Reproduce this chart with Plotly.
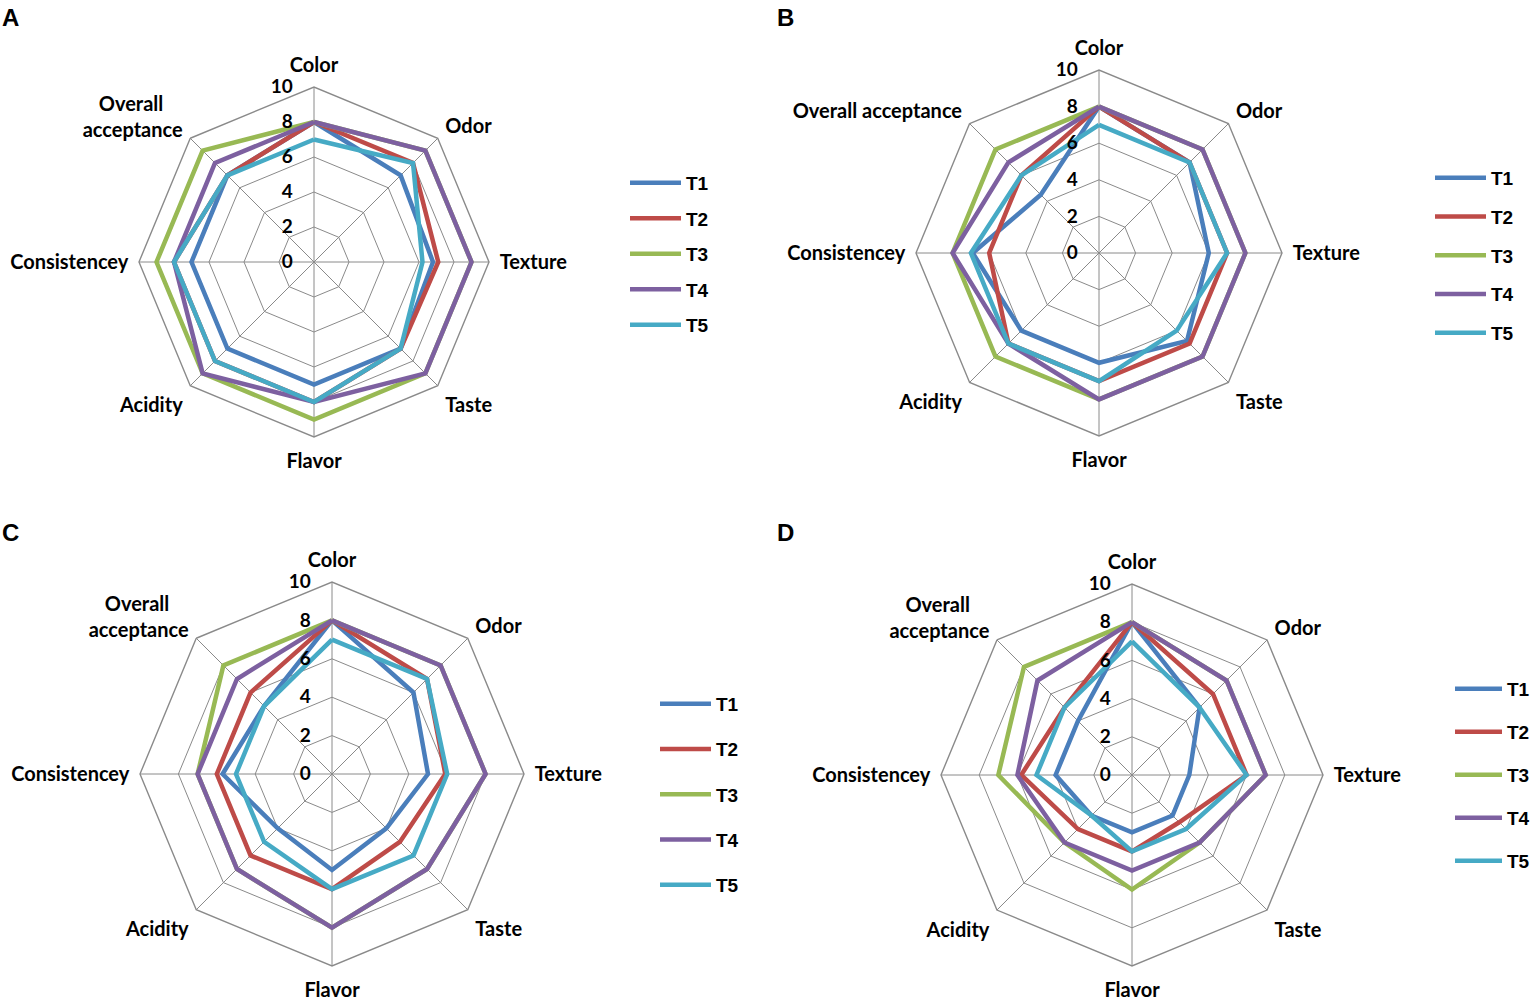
import plotly.graph_objects as go

# ---------------- data ----------------
attributes = ["Color", "Odor", "Texture", "Taste", "Flavor", "Acidity",
              "Consistencey", "Overall acceptance"]
treatments = ["T1", "T2", "T3", "T4", "T5"]
radial_ticks = [0, 2, 4, 6, 8, 10]

# Panel A
A_T1 = [8, 7, 6.8, 7, 7, 7, 7, 7]
A_T2 = [8, 8, 7.1, 7, 8, 8, 8, 7]
A_T3 = [8, 9, 9, 9, 9, 9, 9, 9]
A_T4 = [8, 9, 9, 9, 8, 9, 8, 8]
A_T5 = [7, 8, 6.2, 7, 8, 8, 8, 7]

# Panel B
B_T1 = [8, 7, 6, 6.8, 6, 6, 6.9, 4.5]
B_T2 = [8, 7, 7, 7, 7, 7, 6, 6]
B_T3 = [8, 8, 8, 8, 8, 8, 8, 8]
B_T4 = [8, 8, 8, 8, 8, 7, 8, 7]
B_T5 = [7, 7, 7, 6, 7, 7, 7, 6]

# Panel C
C_T1 = [8, 6, 5, 4, 5, 4, 5.7, 5]
C_T2 = [8, 7, 5.9, 5, 6, 6, 6, 6]
C_T3 = [8, 8, 8, 7, 8, 7, 7, 8]
C_T4 = [8, 8, 8, 7, 8, 7, 7, 7]
C_T5 = [7, 7, 6, 6, 6, 5, 5, 5]

# Panel D
D_T1 = [8, 5, 3, 3, 3, 3, 4, 4]
D_T2 = [8, 6, 6, 3.5, 4, 4, 5.8, 5]
D_T3 = [8, 7, 7, 5, 6, 5, 7, 8]
D_T4 = [8, 7, 7, 5, 5, 5, 6, 7]
D_T5 = [7, 5, 6, 4, 4, 3, 5, 5]

panels = {
    "A": [A_T1, A_T2, A_T3, A_T4, A_T5],
    "B": [B_T1, B_T2, B_T3, B_T4, B_T5],
    "C": [C_T1, C_T2, C_T3, C_T4, C_T5],
    "D": [D_T1, D_T2, D_T3, D_T4, D_T5],
}

# ---------------- style ----------------
W, H = 1535, 1004
colors = ["#4A7EBB", "#BE4B48", "#98B954", "#7D60A0", "#46AAC5"]
grid_col = "#8A8A8A"
label_font = "Lato"

# panel geometry: centre x, centre y, radius (pixels)
geom = {
    "A": (314, 262, 175),
    "B": (1099, 253, 183),
    "C": (332, 774, 192),
    "D": (1132, 775, 191),
}
# legend placement: left x, top y (px), gap between items, symbol width
legend_geo = {
    "A": (625, 164, 7.8, 51),
    "B": (1430, 159, 11, 51),
    "C": (655, 685, 17.5, 51),
    "D": (1450, 670, 15.25, 47),
}
letter_pos = {"A": (0, 18), "B": (775, 18), "C": (0, 532), "D": (775, 532)}

fig = go.Figure()
layout = dict(width=W, height=H,
              margin=dict(l=0, r=0, t=0, b=0, autoexpand=False),
              paper_bgcolor="white", plot_bgcolor="white", annotations=[])

for i, (key, series) in enumerate(panels.items()):
    pname = "polar" if i == 0 else f"polar{i+1}"
    lname = "legend" if i == 0 else f"legend{i+1}"
    for j, (tname, vals) in enumerate(zip(treatments, series)):
        fig.add_trace(go.Scatterpolar(
            r=vals + vals[:1],
            theta=attributes + attributes[:1],
            mode="lines",
            name=tname,
            line=dict(color=colors[j], width=4.5),
            subplot=pname,
            legend=lname,
            legendgroup=f"{key}{tname}",
            showlegend=True,
            hoverinfo="skip",
        ))
    cx, cy, R = geom[key]
    if key == "B":
        ticktext = attributes
    else:
        ticktext = [a.replace("Overall acceptance",
                              "Overall&nbsp;&nbsp;&nbsp;&nbsp;<br>acceptance") for a in attributes]
    layout[pname] = dict(
        domain=dict(x=[(cx - R) / W, (cx + R) / W], y=[1 - (cy + R) / H, 1 - (cy - R) / H]),
        gridshape="linear",
        bgcolor="white",
        radialaxis=dict(range=[0, 10], tickvals=radial_ticks, angle=90, tickangle=90,
                        side="counterclockwise", showline=False,
                        ticks="outside", ticklen=14, tickcolor="rgba(0,0,0,0)",
                        gridcolor=grid_col, gridwidth=1.4,
                        tickfont=dict(family=label_font, size=19, color="black", weight="bold")),
        angularaxis=dict(rotation=90, direction="clockwise", categoryarray=attributes,
                         tickmode="array", tickvals=attributes, ticktext=ticktext,
                         showline=True, linecolor=grid_col, linewidth=1.4,
                         gridcolor=grid_col, gridwidth=1.4,
                         ticks="outside", ticklen=6, tickcolor="rgba(0,0,0,0)",
                         tickfont=dict(family=label_font, size=20, color="black", weight="bold")),
    )
    lx, ly, gap, iw = legend_geo[key]
    layout[lname] = dict(x=lx / W, y=1 - ly / H, xanchor="left", yanchor="top",
                         xref="paper", yref="paper", tracegroupgap=gap,
                         bgcolor="rgba(0,0,0,0)", itemwidth=iw,
                         font=dict(family="Liberation Sans", size=19, color="black", weight="bold"))
    px_, py_ = letter_pos[key]
    layout["annotations"].append(dict(
        text=f"<b>{key}</b>", x=px_ / W, y=1 - py_ / H, xref="paper", yref="paper",
        xanchor="left", yanchor="middle", showarrow=False,
        font=dict(family="Liberation Sans", size=24, color="black")))

fig.update_layout(**layout)
fig.write_html("out.html", config={"displayModeBar": False},
               post_script="document.body.style.margin='0';")
